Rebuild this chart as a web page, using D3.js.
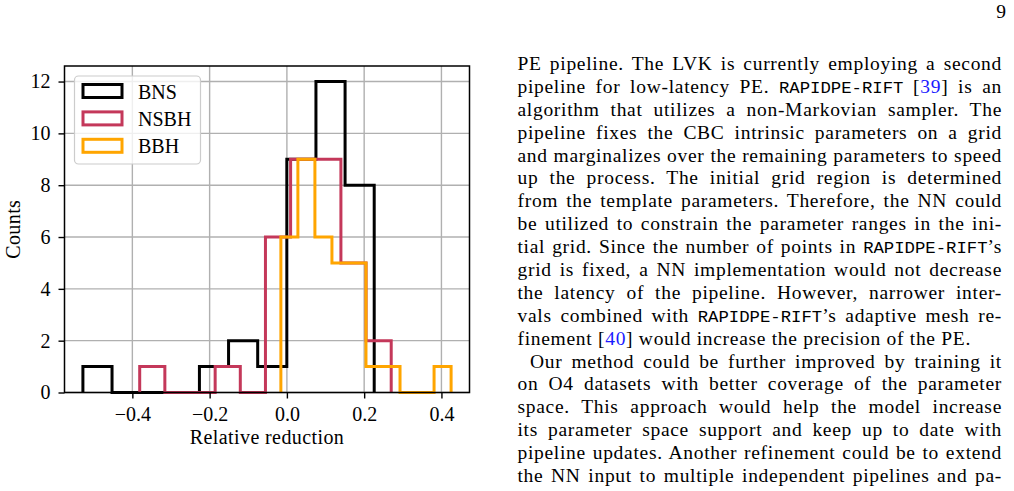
<!DOCTYPE html>
<html>
<head>
<meta charset="utf-8">
<script src="https://cdn.jsdelivr.net/npm/d3@7"></script>
<style>
  body { margin: 0; background: #fff; }
  #page { position: relative; width: 1014px; height: 491px; overflow: hidden; background: #fff; }
  #chart { position: absolute; left: 0; top: 0; }
  #col { position: absolute; left: 517.5px; top: 53px; width: 484.5px;
         font-family: "Liberation Serif", serif; font-size: 19.5px; line-height: 22.9px;
         letter-spacing: 0.7px; color: #000; }
  #col .ln { white-space: nowrap; height: 22.9px; }
  #col .j { text-align: justify; text-align-last: justify; white-space: normal; }
  #col .tt { font-family: "Liberation Mono", monospace; font-size: 17.3px; letter-spacing: 0; }
  #col .cite { color: #1a1aff; }
  #pnum { position: absolute; right: 8px; top: 1px; font-family: "Liberation Serif", serif; font-size: 19.5px; }
</style>
</head>
<body>
<div id="page">
  <svg id="chart" width="490" height="491"></svg>
  <div id="pnum">9</div>
  <div id="col"></div>
</div>
<script>
// histogram data (10 bins per class, step outlines)
var categories = ["BNS", "NSBH", "BBH"];
var bnsCounts  = [1, 0, 0, 0, 1, 2, 1, 9, 12, 8];
var nsbhCounts = [1, 0, 0, 1, 0, 6, 9, 9, 5, 2];
var bbhCounts  = [6, 9, 6, 5, 5, 1, 1, 0, 0, 1];
// min / max of each sample (outer bin edges)
var bnsRange  = [-0.528, 0.226];
var nsbhRange = [-0.381, 0.270];
var bbhRange  = [-0.0156, 0.425];
var xTicks = [-0.4, -0.2, 0.0, 0.2, 0.4];
var yTicks = [0, 2, 4, 6, 8, 10, 12];
var colors = ["#000000", "#c4385a", "#ffa500"];

// text column, one entry per printed line
// `x` = typewriter, {n} = citation; 1 = justified, 2 = justified + indent
var lines = [
  ["PE pipeline.  The LVK is currently employing a second", 1],
  ["pipeline for low-latency PE.  `RAPIDPE-RIFT` [{39}] is an", 1],
  ["algorithm that utilizes a non-Markovian sampler.  The", 1],
  ["pipeline fixes the CBC intrinsic parameters on a grid", 1],
  ["and marginalizes over the remaining parameters to speed", 1],
  ["up the process.  The initial grid region is determined", 1],
  ["from the template parameters.  Therefore, the NN could", 1],
  ["be utilized to constrain the parameter ranges in the ini-", 1],
  ["tial grid. Since the number of points in `RAPIDPE-RIFT`\u2019s", 1],
  ["grid is fixed, a NN implementation would not decrease", 1],
  ["the latency of the pipeline.  However, narrower inter-", 1],
  ["vals combined with `RAPIDPE-RIFT`\u2019s adaptive mesh re-", 1],
  ["finement [{40}] would increase the precision of the PE.", 0],
  ["Our method could be further improved by training it", 2],
  ["on O4 datasets with better coverage of the parameter", 1],
  ["space.  This approach would help the model increase", 1],
  ["its parameter space support and keep up to date with", 1],
  ["pipeline updates. Another refinement could be to extend", 1],
  ["the NN input to multiple independent pipelines and pa-", 1]
];

(function () {
  var series = [
    { name: categories[0], counts: bnsCounts,  range: bnsRange,  color: colors[0] },
    { name: categories[1], counts: nsbhCounts, range: nsbhRange, color: colors[1] },
    { name: categories[2], counts: bbhCounts,  range: bbhRange,  color: colors[2] }
  ];

  var svg = d3.select("#chart");
  var m = { left: 64.5, right: 469.5, top: 66, bottom: 392.5 };
  var serif = "Liberation Serif, serif";
  var fs = "20px";

  // x domain = data extent with 5% margins (matplotlib style)
  var lo = d3.min(series, function (s) { return s.range[0]; });
  var hi = d3.max(series, function (s) { return s.range[1]; });
  var pad = (hi - lo) * 0.05;
  var x = d3.scaleLinear().domain([lo - pad, hi + pad]).range([m.left, m.right]);
  var y = d3.scaleLinear().domain([0, 12.6]).range([m.bottom, m.top]);

  // grid
  svg.append("g").selectAll("line").data(xTicks).enter().append("line")
    .attr("x1", function (d) { return x(d); }).attr("x2", function (d) { return x(d); })
    .attr("y1", m.top).attr("y2", m.bottom)
    .style("stroke", "#b0b0b0").style("stroke-width", 1.4);
  svg.append("g").selectAll("line").data(yTicks).enter().append("line")
    .attr("y1", function (d) { return y(d); }).attr("y2", function (d) { return y(d); })
    .attr("x1", m.left).attr("x2", m.right)
    .style("stroke", "#b0b0b0").style("stroke-width", 1.4);

  // step outlines
  var line = d3.line().x(function (d) { return x(d[0]); }).y(function (d) { return y(d[1]); });
  series.forEach(function (s) {
    var n = s.counts.length;
    var w = (s.range[1] - s.range[0]) / n;
    var pts = [[s.range[0], 0]];
    s.counts.forEach(function (c, i) {
      pts.push([s.range[0] + i * w, c]);
      pts.push([s.range[0] + (i + 1) * w, c]);
    });
    pts.push([s.range[1], 0]);
    svg.append("path").attr("d", line(pts))
      .style("fill", "none").style("stroke", s.color)
      .style("stroke-width", 3).style("stroke-linejoin", "miter");
  });

  // axes
  var xAxis = svg.append("g").attr("transform", "translate(0," + m.bottom + ")")
    .call(d3.axisBottom(x).tickValues(xTicks).tickFormat(d3.format(".1f")).tickSize(6));
  var yAxis = svg.append("g").attr("transform", "translate(" + m.left + ",0)")
    .call(d3.axisLeft(y).tickValues(yTicks).tickFormat(d3.format("d")).tickSize(6).tickPadding(8));
  [xAxis, yAxis].forEach(function (a) {
    a.select(".domain").remove();
    a.selectAll(".tick line").style("stroke", "#000").style("stroke-width", 1.4);
    a.selectAll("text").style("font-family", serif).style("font-size", fs).style("fill", "#000");
  });
  xAxis.selectAll("text").attr("y", 28).attr("dy", 0);

  // frame
  svg.append("rect").attr("x", m.left).attr("y", m.top)
    .attr("width", m.right - m.left).attr("height", m.bottom - m.top)
    .style("fill", "none").style("stroke", "#000").style("stroke-width", 1.5);

  // axis labels
  svg.append("text").attr("x", (m.left + m.right) / 2).attr("y", 444)
    .attr("text-anchor", "middle").style("font-family", serif).style("font-size", fs)
    .style("letter-spacing", "0.4px").text("Relative reduction");
  svg.append("text").attr("transform", "translate(20," + ((m.top + m.bottom) / 2) + ") rotate(-90)")
    .attr("text-anchor", "middle").style("font-family", serif).style("font-size", fs)
    .style("letter-spacing", "0.4px").text("Counts");

  // legend
  var lg = svg.append("g");
  lg.append("rect").attr("x", 74.5).attr("y", 76).attr("width", 126).attr("height", 88)
    .attr("rx", 4).style("fill", "#fff").style("fill-opacity", 0.8)
    .style("stroke", "#cccccc").style("stroke-width", 1.2);
  var item = lg.selectAll("g.item").data(series).enter().append("g")
    .attr("transform", function (d, i) { return "translate(0," + (i * 27.4) + ")"; });
  item.append("rect").attr("x", 83).attr("y", 84.5).attr("width", 39).attr("height", 13)
    .style("fill", "none").style("stroke", function (d) { return d.color; }).style("stroke-width", 3);
  item.append("text").attr("x", 138).attr("y", 98.5)
    .style("font-family", serif).style("font-size", fs)
    .text(function (d) { return d.name; });

  // text column
  function markup(s) {
    return s.replace(/`([^`]*)`/g, '<span class="tt">$1</span>')
            .replace(/\{(\d+)\}/g, '<span class="cite">$1</span>');
  }
  d3.select("#col").selectAll("div").data(lines).enter().append("div")
    .attr("class", function (d) { return d[1] ? "ln j" : "ln"; })
    .style("text-indent", function (d) { return d[1] === 2 ? "12.5px" : null; })
    .html(function (d) { return markup(d[0]); });
})();
</script>
</body>
</html>
